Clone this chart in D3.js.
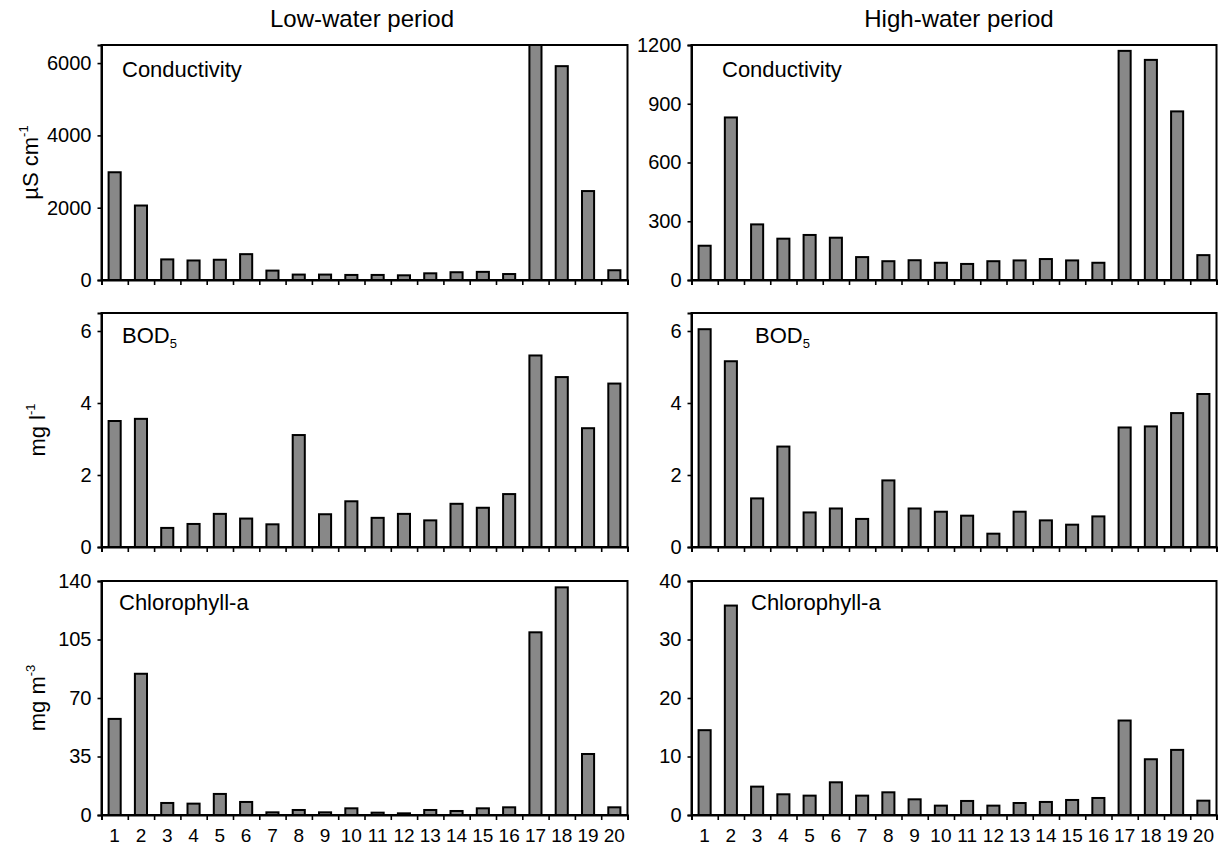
<!DOCTYPE html>
<html>
<head>
<meta charset="utf-8">
<script src="https://cdn.jsdelivr.net/npm/d3@7"></script>
<style>
  html, body { margin: 0; padding: 0; background: #fff; }
  svg { display: block; font-family: "Liberation Sans", Arial, sans-serif; }
</style>
</head>
<body>
<svg id="chart" width="1220" height="848"></svg>
<script>
// ---------------- data ----------------
const sites = ["1","2","3","4","5","6","7","8","9","10","11","12","13","14","15","16","17","18","19","20"];
const periods = ["Low-water period", "High-water period"];

const condLow  = [2980, 2060, 570, 540, 560, 715, 260, 150, 150, 140, 140, 130, 185, 215, 225, 165, 6500, 5915, 2460, 270];
const condHigh = [175, 830, 284, 211, 230, 216, 117, 96, 101, 88, 82, 96, 100, 107, 100, 88, 1170, 1124, 861, 127];

const bodLow  = [3.50, 3.56, 0.53, 0.64, 0.92, 0.79, 0.63, 3.11, 0.91, 1.27, 0.81, 0.92, 0.74, 1.20, 1.09, 1.47, 5.32, 4.72, 3.30, 4.54];
const bodHigh = [6.05, 5.16, 1.35, 2.79, 0.96, 1.07, 0.78, 1.85, 1.07, 0.98, 0.87, 0.37, 0.98, 0.74, 0.62, 0.85, 3.32, 3.35, 3.72, 4.25];

const chlLow  = [57.5, 84.5, 7.2, 6.8, 12.6, 7.8, 1.6, 3.0, 1.6, 4.0, 1.4, 1.0, 3.0, 2.4, 4.0, 4.6, 109.3, 136.2, 36.5, 4.6];
const chlHigh = [14.5, 35.8, 4.85, 3.54, 3.31, 5.59, 3.31, 3.88, 2.68, 1.60, 2.40, 1.60, 2.05, 2.23, 2.57, 2.91, 16.15, 9.53, 11.13, 2.45];

const ticksCondLow  = [0, 2000, 4000, 6000];
const ticksCondHigh = [0, 300, 600, 900, 1200];
const ticksBod      = [0, 2, 4, 6];
const ticksChlLow   = [0, 35, 70, 105, 140];
const ticksChlHigh  = [0, 10, 20, 30, 40];

const maxCondLow = 6500, maxCondHigh = 1200, maxBod = 6.5, maxChlLow = 140, maxChlHigh = 40;

// ---------------- layout ----------------
const cols = [{x0: 101.5, x1: 627.5, tx: 362}, {x0: 691.5, x1: 1216.5, tx: 959}];
const rows = [{y0: 45, y1: 280}, {y0: 313, y1: 547}, {y0: 581, y1: 815}];

const panels = [
  {r: 0, c: 0, values: condLow,  max: maxCondLow,  ticks: ticksCondLow,  label: "Conductivity", lx: 122, ly: 77},
  {r: 0, c: 1, values: condHigh, max: maxCondHigh, ticks: ticksCondHigh, label: "Conductivity", lx: 722, ly: 77},
  {r: 1, c: 0, values: bodLow,   max: maxBod,      ticks: ticksBod,      label: "BOD", sub: "5", lx: 122, ly: 343},
  {r: 1, c: 1, values: bodHigh,  max: maxBod,      ticks: ticksBod,      label: "BOD", sub: "5", lx: 755, ly: 343},
  {r: 2, c: 0, values: chlLow,   max: maxChlLow,   ticks: ticksChlLow,   label: "Chlorophyll-a", lx: 119, ly: 610},
  {r: 2, c: 1, values: chlHigh,  max: maxChlHigh,  ticks: ticksChlHigh,  label: "Chlorophyll-a", lx: 751, ly: 610}
];

const yTitles = [
  {r: 0, main: "µS cm", sup: "-1", x: 38},
  {r: 1, main: "mg l",  sup: "-1", x: 45},
  {r: 2, main: "mg m",  sup: "-3", x: 45}
];

const svg = d3.select("#chart");

// column titles
periods.forEach((p, i) => {
  svg.append("text")
    .attr("x", cols[i].tx)
    .attr("y", 27)
    .attr("text-anchor", "middle")
    .style("font-size", "24px")
    .text(p);
});

panels.forEach(p => {
  const col = cols[p.c], row = rows[p.r];
  const g = svg.append("g");

  const x = d3.scaleBand().domain(sites).range([col.x0, col.x1]).padding(0);
  const xb = d3.scaleLinear().domain([0, sites.length]).range([col.x0, col.x1]);
  const y = d3.scaleLinear().domain([0, p.max]).range([row.y1, row.y0]);

  const bw = x.bandwidth() * 0.46;

  // bars
  g.selectAll("rect.bar").data(p.values).join("rect")
    .attr("class", "bar")
    .attr("x", (d, i) => x(sites[i]) + (x.bandwidth() - bw) / 2)
    .attr("y", d => y(d))
    .attr("width", bw)
    .attr("height", d => y(0) - y(d))
    .attr("fill", "#888888")
    .attr("stroke", "#000")
    .attr("stroke-width", 2);

  // frame
  g.append("rect")
    .attr("x", col.x0).attr("y", row.y0)
    .attr("width", col.x1 - col.x0).attr("height", row.y1 - row.y0)
    .attr("fill", "none").attr("stroke", "#000").attr("stroke-width", 2);

  // y axis
  const ya = g.append("g")
    .attr("transform", `translate(${col.x0},0)`)
    .call(d3.axisLeft(y).tickValues(p.ticks).tickSize(4).tickPadding(6).tickFormat(d3.format("d")));
  ya.select(".domain").attr("stroke-width", 2);
  ya.selectAll(".tick line").attr("stroke-width", 1.6);
  ya.selectAll("text").style("font-size", "20px").attr("fill", "#000");

  // x axis boundary ticks
  const xa = g.append("g")
    .attr("transform", `translate(0,${row.y1})`)
    .call(d3.axisBottom(xb).tickValues(d3.range(0, sites.length + 1)).tickSize(5).tickFormat(""));
  xa.select(".domain").attr("stroke-width", 2);
  xa.selectAll(".tick line").attr("stroke-width", 1.6);

  // x labels on bottom row only
  if (p.r === 2) {
    const xl = g.append("g")
      .attr("transform", `translate(0,${row.y1})`)
      .call(d3.axisBottom(x).tickSize(0).tickPadding(14));
    xl.select(".domain").remove();
    xl.selectAll("text").style("font-size", "19px").attr("fill", "#000");
  }

  // panel label
  const t = g.append("text")
    .attr("x", p.lx).attr("y", p.ly)
    .style("font-size", "22px")
    .text(p.label);
  if (p.sub) {
    t.append("tspan").attr("dy", 5).style("font-size", "13px").text(p.sub);
  }
});

// y-axis titles
yTitles.forEach(t => {
  const row = rows[t.r];
  const cy = (row.y0 + row.y1) / 2;
  const tx = svg.append("text")
    .attr("transform", `translate(${t.x},${cy}) rotate(-90)`)
    .attr("text-anchor", "middle")
    .style("font-size", "22px");
  tx.append("tspan").text(t.main);
  tx.append("tspan").attr("dy", -10).style("font-size", "13px").text(t.sup);
});
</script>
</body>
</html>
